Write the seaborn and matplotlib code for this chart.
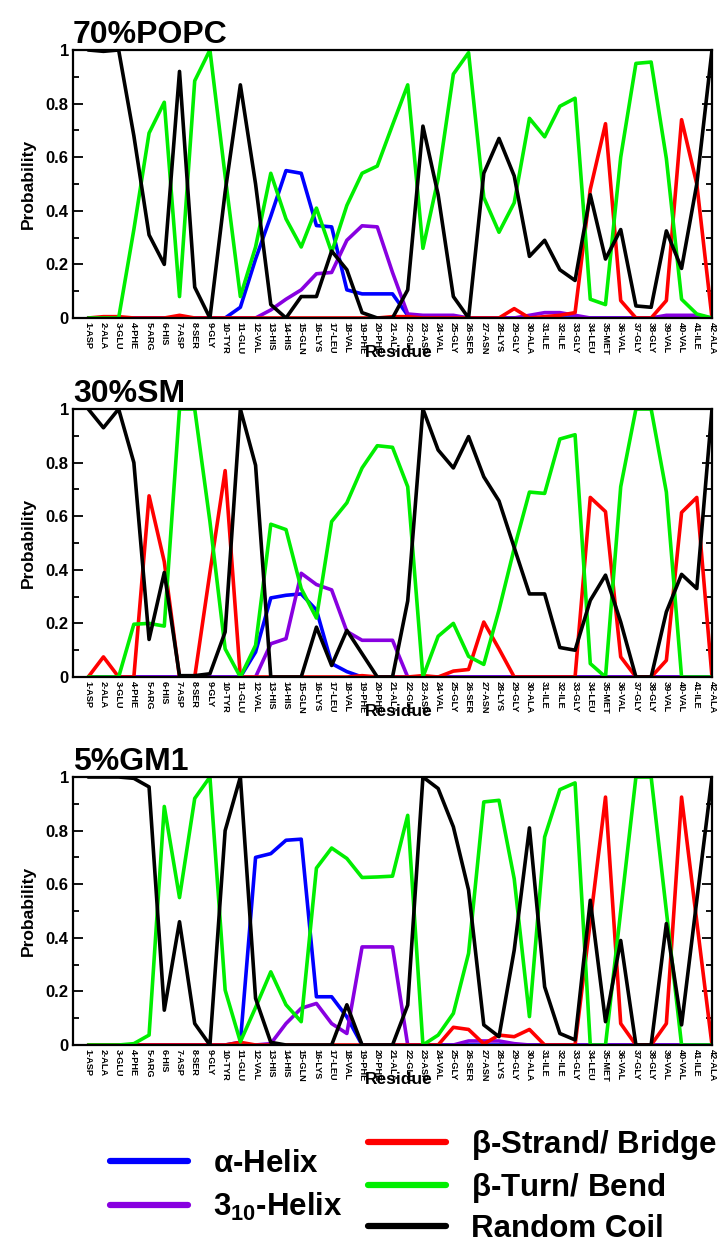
import numpy as np
import pandas as pd
import seaborn as sns
from matplotlib import pyplot as plt
from matplotlib.lines import Line2D

residues = ["ASP", "ALA", "GLU", "PHE", "ARG", "HIS", "ASP", "SER", "GLY", "TYR",
            "GLU", "VAL", "HIS", "HIS", "GLN", "LYS", "LEU", "VAL", "PHE", "PHE",
            "ALA", "GLU", "ASP", "VAL", "GLY", "SER", "ASN", "LYS", "GLY", "ALA",
            "ILE", "ILE", "GLY", "LEU", "MET", "VAL", "GLY", "GLY", "VAL", "VAL",
            "ILE", "ALA"]
tick_labels = [f"{i + 1}-{r}" for i, r in enumerate(residues)]

structures = ["alpha", "310", "beta", "turn", "coil"]

# 70% POPC
popc_alpha = [0, 0, 0, 0, 0, 0, 0, 0, 0, 0,
              0.04, 0.22, 0.38, 0.55, 0.54, 0.345, 0.34, 0.105, 0.09, 0.09,
              0.09, 0.01, 0, 0, 0, 0, 0, 0, 0, 0,
              0, 0, 0, 0, 0, 0, 0, 0, 0, 0,
              0, 0]
popc_310 = [0, 0, 0, 0, 0, 0, 0, 0, 0, 0,
            0, 0, 0.03, 0.07, 0.105, 0.165, 0.17, 0.29, 0.344, 0.34,
            0.17, 0.015, 0.01, 0.01, 0.01, 0, 0, 0, 0, 0.01,
            0.02, 0.02, 0.01, 0, 0, 0, 0, 0, 0.01, 0.01,
            0.01, 0]
popc_beta = [0, 0.005, 0.005, 0, 0, 0, 0.01, 0, 0, 0,
             0, 0, 0, 0, 0, 0, 0, 0, 0, 0,
             0.005, 0.005, 0, 0, 0, 0, 0, 0, 0.035, 0,
             0.005, 0.01, 0.02, 0.48, 0.725, 0.065, 0, 0, 0.065, 0.74,
             0.5, 0]
popc_turn = [0, 0, 0, 0.33, 0.69, 0.805, 0.08, 0.885, 1.0, 0.53,
             0.08, 0.265, 0.54, 0.37, 0.265, 0.41, 0.245, 0.42, 0.54, 0.567,
             0.72, 0.87, 0.26, 0.52, 0.91, 0.99, 0.45, 0.32, 0.43, 0.745,
             0.676, 0.79, 0.82, 0.07, 0.05, 0.60, 0.95, 0.955, 0.595, 0.07,
             0.015, 0]
popc_coil = [1.0, 0.995, 1.0, 0.68, 0.31, 0.2, 0.92, 0.115, 0, 0.47,
             0.87, 0.5, 0.05, 0, 0.08, 0.08, 0.25, 0.18, 0.02, 0,
             0, 0.105, 0.716, 0.46, 0.08, 0, 0.54, 0.67, 0.53, 0.23,
             0.29, 0.18, 0.14, 0.46, 0.22, 0.33, 0.045, 0.04, 0.325, 0.185,
             0.5, 1.0]

# 30% SM
sm_alpha = [0, 0, 0, 0, 0, 0, 0, 0, 0, 0,
            0, 0.093, 0.295, 0.305, 0.31, 0.25, 0.05, 0.02, 0, 0,
            0, 0, 0, 0, 0, 0, 0, 0, 0, 0,
            0, 0, 0, 0, 0, 0, 0, 0, 0, 0,
            0, 0]
sm_310 = [0, 0, 0, 0, 0, 0, 0, 0, 0, 0,
          0, 0, 0.124, 0.143, 0.387, 0.345, 0.325, 0.17, 0.137, 0.137,
          0.137, 0, 0, 0, 0, 0, 0, 0, 0, 0,
          0, 0, 0, 0, 0, 0, 0, 0, 0, 0,
          0, 0]
sm_beta = [0, 0.075, 0, 0, 0.676, 0.43, 0, 0, 0.39, 0.77,
           0, 0, 0, 0, 0, 0, 0, 0, 0.005, 0,
           0, 0, 0.005, 0, 0.022, 0.028, 0.205, 0.105, 0, 0,
           0, 0, 0, 0.67, 0.617, 0.075, 0, 0, 0.062, 0.614,
           0.67, 0]
sm_turn = [0, 0, 0, 0.197, 0.2, 0.19, 1.0, 1.0, 0.58, 0.105,
           0, 0.118, 0.57, 0.55, 0.33, 0.22, 0.58, 0.65, 0.78, 0.863,
           0.857, 0.71, 0, 0.152, 0.2, 0.077, 0.047, 0.25, 0.48, 0.69,
           0.685, 0.888, 0.904, 0.05, 0, 0.71, 1.0, 1.0, 0.69, 0,
           0, 0]
sm_coil = [1.0, 0.93, 1.0, 0.80, 0.14, 0.39, 0.005, 0.005, 0.012, 0.168,
           1.0, 0.79, 0, 0, 0, 0.186, 0.043, 0.174, 0.087, 0,
           0, 0.284, 1.0, 0.847, 0.78, 0.897, 0.747, 0.657, 0.483, 0.31,
           0.31, 0.11, 0.10, 0.286, 0.38, 0.205, 0, 0, 0.243, 0.383,
           0.33, 1.0]

# 5% GM1
gm_alpha = [0, 0, 0, 0, 0, 0, 0, 0, 0, 0,
            0.01, 0.70, 0.714, 0.764, 0.768, 0.18, 0.18, 0.105, 0, 0,
            0, 0, 0, 0, 0, 0, 0, 0, 0, 0,
            0, 0, 0, 0, 0, 0, 0, 0, 0, 0,
            0, 0]
gm_310 = [0, 0, 0, 0, 0, 0, 0, 0, 0, 0,
          0, 0, 0.005, 0.08, 0.137, 0.155, 0.08, 0.043, 0.366, 0.366,
          0.366, 0, 0, 0, 0, 0.015, 0.015, 0.015, 0.005, 0,
          0, 0, 0, 0, 0, 0, 0, 0, 0, 0,
          0, 0]
gm_beta = [0, 0, 0, 0, 0, 0, 0, 0, 0, 0,
           0.01, 0, 0, 0, 0, 0, 0, 0, 0, 0,
           0, 0, 0, 0, 0.066, 0.058, 0.004, 0.037, 0.031, 0.058,
           0, 0, 0, 0.46, 0.925, 0.08, 0, 0, 0.08, 0.925,
           0.46, 0]
gm_turn = [0, 0, 0, 0.005, 0.037, 0.89, 0.55, 0.92, 1.0, 0.205,
           0.012, 0.14, 0.273, 0.15, 0.087, 0.66, 0.735, 0.696, 0.625, 0.627,
           0.63, 0.857, 0, 0.037, 0.118, 0.342, 0.907, 0.913, 0.62, 0.106,
           0.776, 0.953, 0.978, 0, 0, 0.5, 1.0, 1.0, 0.5, 0,
           0, 0]
gm_coil = [1.0, 1.0, 1.0, 0.995, 0.963, 0.13, 0.46, 0.08, 0, 0.80,
           1.0, 0.174, 0.01, 0, 0, 0, 0, 0.15, 0, 0,
           0, 0.149, 1.0, 0.957, 0.814, 0.578, 0.075, 0.031, 0.354, 0.81,
           0.217, 0.043, 0.019, 0.54, 0.087, 0.39, 0, 0, 0.453, 0.075,
           0.54, 1.0]

panels = {
    "70%POPC": [popc_alpha, popc_310, popc_beta, popc_turn, popc_coil],
    "30%SM": [sm_alpha, sm_310, sm_beta, sm_turn, sm_coil],
    "5%GM1": [gm_alpha, gm_310, gm_beta, gm_turn, gm_coil],
}

palette = {"alpha": "#0000ff", "310": "#8800e0", "beta": "#ff0000",
           "turn": "#00ee00", "coil": "#000000"}
legend_names = {"alpha": r"$\alpha$-Helix", "310": r"3$_{\mathbf{10}}$-Helix",
                "beta": r"$\beta$-Strand/ Bridge", "turn": r"$\beta$-Turn/ Bend",
                "coil": "Random Coil"}

rows = []
for name, series in panels.items():
    for s, vals in zip(structures, series):
        for i, v in enumerate(vals):
            rows.append({"panel": name, "residue": i + 1, "structure": s, "prob": v})
df = pd.DataFrame(rows)

sns.set_theme(style="ticks")
plt.rcParams["font.family"] = ["Liberation Sans", "DejaVu Sans"]
plt.rcParams["font.weight"] = "bold"
plt.rcParams["axes.labelweight"] = "bold"
plt.rcParams["axes.titleweight"] = "bold"
for key in ["text.color", "axes.labelcolor", "xtick.color", "ytick.color",
            "axes.edgecolor"]:
    plt.rcParams[key] = "black"
plt.rcParams["mathtext.fontset"] = "custom"
plt.rcParams["mathtext.rm"] = "Liberation Sans:bold"
plt.rcParams["mathtext.it"] = "Liberation Sans:bold"
plt.rcParams["mathtext.bf"] = "Liberation Sans:bold"

fig = plt.figure(figsize=(7.25, 12.43), dpi=100)
bottoms = [1 - 318 / 1243, 1 - 677 / 1243, 1 - 1045 / 1243]

for (name, _), b in zip(panels.items(), bottoms):
    ax = fig.add_axes([73 / 725, b, 639 / 725, 268 / 1243])
    sns.lineplot(data=df[df["panel"] == name], x="residue", y="prob",
                 hue="structure", hue_order=structures, palette=palette,
                 linewidth=2.6, legend=False, ax=ax)
    ax.set_xlim(0, 42)
    ax.set_ylim(0, 1)
    ax.set_xticks(range(1, 43))
    ax.set_xticklabels(tick_labels, rotation=270, fontsize=6.6)
    ax.set_yticks([0, 0.2, 0.4, 0.6, 0.8, 1.0])
    ax.set_yticklabels(["0", "0.2", "0.4", "0.6", "0.8", "1"], fontsize=12)
    ax.set_yticks(np.arange(0.1, 1.0, 0.2), minor=True)
    ax.tick_params(axis="x", length=0, pad=3)
    ax.tick_params(axis="y", which="major", direction="in", length=7, width=1.3,
                   left=True, right=True, pad=3)
    ax.tick_params(axis="y", which="minor", direction="in", length=4, width=1.3,
                   left=True, right=True)
    for sp in ax.spines.values():
        sp.set_linewidth(1.6)
        sp.set_color("black")
    ax.set_xlabel("Residue", fontsize=12.5)
    ax.xaxis.set_label_coords(0.51, -0.1)
    ax.set_ylabel("Probability", fontsize=12.5)
    ax.yaxis.set_label_coords(-0.058, 0.5)
    ax.set_title(name, loc="left", fontsize=23, pad=5)

def handles(keys):
    return [Line2D([], [], color=palette[k], lw=4.5) for k in keys]

left_keys = ["alpha", "310"]
right_keys = ["beta", "turn", "coil"]
fig.legend(handles(left_keys), [legend_names[k] for k in left_keys],
           loc="center left", bbox_to_anchor=(110 / 725, 1 - 1186 / 1243),
           frameon=False, fontsize=22.5, handlelength=2.5, handletextpad=0.8,
           labelspacing=0.38, borderpad=0, borderaxespad=0)
fig.legend(handles(right_keys), [legend_names[k] for k in right_keys],
           loc="center left", bbox_to_anchor=(368 / 725, 1 - 1186 / 1243),
           frameon=False, fontsize=22.5, handlelength=2.5, handletextpad=0.8,
           labelspacing=0.3, borderpad=0, borderaxespad=0)

plt.savefig("out.png", dpi=100)
